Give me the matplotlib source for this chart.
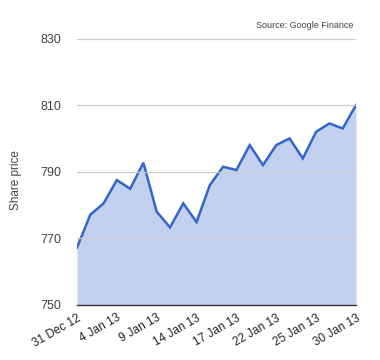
import matplotlib
matplotlib.use("Agg")
import matplotlib.pyplot as plt

plt.rcParams['font.family'] = ['Liberation Sans', 'DejaVu Sans']

# trading days, 31 Dec 12 .. 30 Jan 13
dates = ['31 Dec 12', '2 Jan 13', '3 Jan 13', '4 Jan 13', '7 Jan 13', '8 Jan 13',
         '9 Jan 13', '10 Jan 13', '11 Jan 13', '14 Jan 13', '15 Jan 13', '16 Jan 13',
         '17 Jan 13', '18 Jan 13', '21 Jan 13', '22 Jan 13', '23 Jan 13', '24 Jan 13',
         '25 Jan 13', '28 Jan 13', '29 Jan 13', '30 Jan 13']
prices = [767.2, 777.1, 780.5, 787.5, 784.9, 792.7, 778.0, 773.3, 780.5, 774.9,
          786.0, 791.5, 790.5, 798.0, 792.0, 798.0, 800.0, 794.0, 802.0, 804.5,
          803.0, 810.0]
shown_labels = ['31 Dec 12', '4 Jan 13', '9 Jan 13', '14 Jan 13', '17 Jan 13',
                '22 Jan 13', '25 Jan 13', '30 Jan 13']
y_ticks = [750, 770, 790, 810, 830]

fig = plt.figure(figsize=(3.8, 3.6), dpi=100)
ax = fig.add_axes([0.2026, 0.1528, 0.7342, 0.7402])

x = list(range(len(dates)))
ax.fill_between(x, 750, prices, color='#c2d1ef', linewidth=0)
ax.plot(x, prices, color='#3366cc', linewidth=1.8, solid_joinstyle='miter')

ax.set_xlim(0, len(dates) - 1)
ax.set_ylim(750, 830)
ax.set_yticks(y_ticks)
ax.set_yticklabels([str(v) for v in y_ticks], fontsize=9, color='#444444')
ax.grid(axis='y', color='#cccccc', linewidth=0.9)
ax.set_axisbelow(False)
ax.tick_params(axis='y', length=0, pad=11)

idx = [dates.index(d) for d in shown_labels]
ax.set_xticks(idx)
ax.set_xticklabels(shown_labels, rotation=30, ha='right', rotation_mode='anchor',
                   fontsize=8.5, color='#222222')
ax.tick_params(axis='x', length=0, pad=5)

for side in ['top', 'right', 'left']:
    ax.spines[side].set_visible(False)
ax.spines['bottom'].set_color('#333333')
ax.spines['bottom'].set_linewidth(1.0)
ax.spines['bottom'].set_zorder(5)

ax.set_ylabel('Share price', fontsize=8.5, color='#444444', va='center')
ax.yaxis.set_label_coords(-0.217, 0.47)
fig.text(0.929, 0.918, 'Source: Google Finance', fontsize=6.5, color='#444444',
         ha='right', va='bottom')

fig.savefig('out.png', dpi=100)
